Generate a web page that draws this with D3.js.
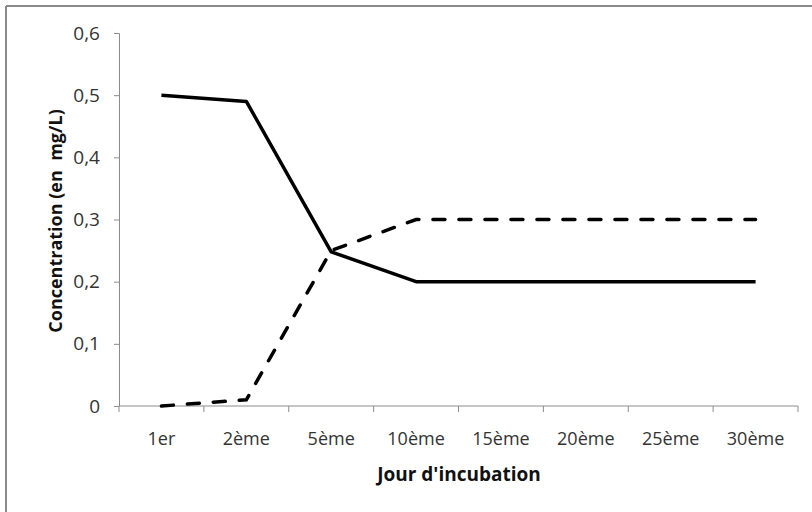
<!DOCTYPE html>
<html><head><meta charset="utf-8">
<script src="https://cdn.jsdelivr.net/npm/d3@7"></script>
<style>body{margin:0;background:#fff}svg{display:block}</style>
</head><body><svg id="c" width="812" height="512"></svg>
<script>
const categories = ["1er","2ème","5ème","10ème","15ème","20ème","25ème","30ème"];
const solidSeries = [0.5,0.49,0.248,0.2,0.2,0.2,0.2,0.2];
const dashedSeries = [0,0.01,0.25,0.3,0.3,0.3,0.3,0.3];
const yTicks = [0,0.1,0.2,0.3,0.4,0.5,0.6];
const yTitle = "Concentration (en  mg/L)";
const xTitle = "Jour d'incubation";

const svg = d3.select("#c");
const font = "'Open Sans', sans-serif";
// outer frame
svg.append("line").attr("x1",6).attr("x2",812).attr("y1",6).attr("y2",6).attr("stroke","#8a8a8a").attr("stroke-width",2);
svg.append("line").attr("x1",6).attr("x2",6).attr("y1",6).attr("y2",512).attr("stroke","#8a8a8a").attr("stroke-width",2);

const x = d3.scaleBand().domain(categories).range([119,798]);
const y = d3.scaleLinear().domain([0,0.6]).range([406,33]);

const fmt = d => d===0 ? "0" : d3.format(".1f")(d).replace(".",",");
const gy = svg.append("g").attr("transform","translate(119,0)")
  .call(d3.axisLeft(y).tickValues(yTicks).tickSize(5).tickFormat(fmt));
gy.selectAll("line,path").attr("stroke","#8c8c8c");
gy.select(".domain").attr("d","M-5,33.5H0.5V406");
gy.selectAll("text").attr("font-family",font).attr("font-size",19).attr("fill","#333").attr("x",-19);

const gx = svg.append("g").attr("transform","translate(0,406)");
gx.append("line").attr("x1",119).attr("x2",798).attr("stroke","#8c8c8c");
const tickPos = categories.map(c=>x(c)).concat([x.range()[1]]);
gx.selectAll(".tk").data(tickPos).join("line").attr("x1",d=>d).attr("x2",d=>d).attr("y1",0).attr("y2",6).attr("stroke","#8c8c8c");
gx.selectAll(".lb").data(categories).join("text").attr("x",d=>x(d)+x.bandwidth()/2).attr("y",39)
  .attr("text-anchor","middle").attr("font-family",font).attr("font-size",18).attr("fill","#333").text(d=>d);

svg.append("text").attr("x",459).attr("y",481).attr("text-anchor","middle").attr("font-family",font)
  .attr("font-weight","bold").attr("font-size",19).attr("fill","#111").text(xTitle);
svg.append("text").attr("transform","translate(62,221) rotate(-90)").attr("text-anchor","middle").attr("font-family",font)
  .style("white-space","pre")
  .attr("font-weight","bold").attr("font-size",18).attr("fill","#111").text(yTitle);

const line = d3.line().x((d,i)=>x(categories[i])+x.bandwidth()/2).y(d=>y(d));
svg.append("path").datum(dashedSeries).attr("d",line).attr("fill","none").attr("stroke","#000")
  .attr("stroke-width",3.5).attr("stroke-dasharray","12,14").attr("stroke-linecap","round");
svg.append("path").datum(solidSeries).attr("d",line).attr("fill","none").attr("stroke","#000")
  .attr("stroke-width",3.5).attr("stroke-linejoin","round");
</script></body></html>
